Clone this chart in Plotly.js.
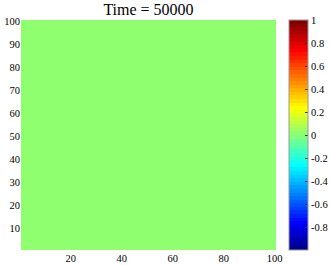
<!DOCTYPE html>
<html>
<head>
<meta charset="utf-8">
<script src="https://cdn.plot.ly/plotly-3.0.1.min.js"></script>
<style>html,body{margin:0;padding:0;background:#fff;}#chart{width:330px;height:265px;}</style>
</head>
<body>
<div id="chart"></div>
<script>
// Data: a 100 x 100 field, uniformly 0 at Time = 50000
const titleText = 'Time = 50000';
const xCells = Array.from({length: 100}, (_, i) => i + 1);
const yCells = Array.from({length: 100}, (_, i) => i + 1);
const fieldValue = 0;               // every cell reads as 0 (uniform green)
const xTickVals = [20, 40, 60, 80, 100];
const yTickVals = [10, 20, 30, 40, 50, 60, 70, 80, 90, 100];
const cbTickVals = [-0.8, -0.6, -0.4, -0.2, 0, 0.2, 0.4, 0.6, 0.8, 1];
const cbTickText = ['-0.8', '-0.6', '-0.4', '-0.2', '0', '0.2', '0.4', '0.6', '0.8', '1'];
const zLimits = [-1, 1];

const z = yCells.map(() => xCells.map(() => fieldValue));

// MATLAB jet(64) colormap, discrete
function jet(m) {
  const n = Math.ceil(m / 4);
  const u = [];
  for (let i = 1; i <= n; i++) u.push(i / n);
  for (let i = 1; i <= n - 1; i++) u.push(1);
  for (let i = n; i >= 1; i--) u.push(i / n);
  const J = Array.from({length: m}, () => [0, 0, 0]);
  const gi = u.map((_, i) => Math.ceil(n / 2) - (m % 4 === 1 ? 1 : 0) + i + 1);
  const ri = gi.map(v => v + n).filter(v => v <= m);
  const bi = gi.map(v => v - n).filter(v => v >= 1);
  const gf = gi.filter(v => v <= m);
  ri.forEach((idx, k) => { J[idx - 1][0] = u[k]; });
  gf.forEach((idx, k) => { J[idx - 1][1] = u[k]; });
  bi.forEach((idx, k) => { J[idx - 1][2] = u[u.length - bi.length + k]; });
  return J;
}
const cmap = jet(64);
const colorscale = [];
cmap.forEach((c, i) => {
  const col = 'rgb(' + c.map(v => Math.round(v * 255)).join(',') + ')';
  colorscale.push([i / 64, col]);
  colorscale.push([i === 63 ? 1 : (i + 1) / 64 - 1e-6, col]);
});

const font = {family: '"Liberation Serif", "Times New Roman", serif', color: '#000', size: 10.5};

Plotly.newPlot('chart', [{
  type: 'heatmap',
  x: xCells, y: yCells, z: z,
  zmin: zLimits[0], zmax: zLimits[1],
  colorscale: colorscale,
  hoverinfo: 'skip',
  colorbar: {
    x: 1.051, xanchor: 'left', xref: 'paper',
    y: 0, yanchor: 'bottom', len: 1, lenmode: 'fraction',
    thickness: 19, thicknessmode: 'pixels',
    outlinecolor: '#999', outlinewidth: 1,
    tickvals: cbTickVals, ticktext: cbTickText,
    ticks: 'inside', ticklen: 3, tickcolor: '#333',
    tickfont: font, xpad: 0, ypad: 0
  }
}], {
  width: 330, height: 265,
  margin: {l: 21, r: 54, t: 20, b: 15, pad: 0, autoexpand: false},
  paper_bgcolor: '#fff', plot_bgcolor: '#fff',
  font: font,
  title: {text: titleText, font: {family: font.family, size: 16, color: '#000'},
          xref: 'paper', x: 0.5, xanchor: 'center', yref: 'container', y: 1 - 9 / 265, yanchor: 'middle'},
  xaxis: {range: [0.5, 100.5], tickvals: xTickVals, ticks: '', showgrid: false, zeroline: false,
          showline: false, tickfont: font, ticklen: 0, automargin: false},
  yaxis: {range: [0.5, 100.5], tickvals: yTickVals, ticks: '', showgrid: false, zeroline: false,
          showline: false, tickfont: font, ticklen: 0, automargin: false}
}, {displayModeBar: false, staticPlot: true});
</script>
</body>
</html>
